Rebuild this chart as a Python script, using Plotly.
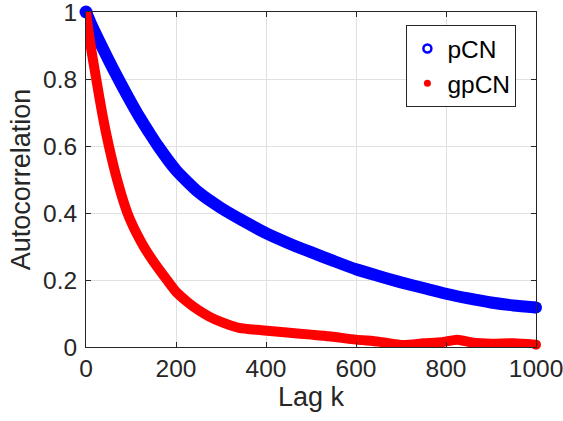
import plotly.graph_objects as go

# pCN autocorrelation
lag_pcn = [0, 12, 24, 36, 50, 70, 90, 107, 120, 140, 160, 200, 250, 300, 350,
           400, 450, 500, 550, 600, 650, 700, 750, 800, 850, 900, 950, 1000]
acf_pcn = [1.0, 0.962, 0.928, 0.895, 0.857, 0.805, 0.755, 0.714, 0.684, 0.641, 0.6,
           0.528, 0.462, 0.415, 0.376, 0.34, 0.31, 0.283, 0.257, 0.232, 0.212,
           0.193, 0.176, 0.159, 0.145, 0.133, 0.124, 0.118]

# gpCN autocorrelation
lag_gpcn = [0, 6, 12, 24, 37, 50, 70, 92, 112, 130, 150, 180, 200, 225, 250, 275,
            300, 340, 390, 440, 500, 540, 600, 650, 705, 750, 790, 825, 860, 900,
            950, 1000]
acf_gpcn = [1.0, 0.94, 0.885, 0.79, 0.69, 0.605, 0.495, 0.4, 0.34, 0.296, 0.255,
            0.2, 0.165, 0.135, 0.11, 0.09, 0.075, 0.057, 0.05, 0.044, 0.037, 0.032,
            0.022, 0.016, 0.006, 0.011, 0.014, 0.022, 0.013, 0.01, 0.011, 0.007]

x_ticks = [0, 200, 400, 600, 800, 1000]
y_ticks = [0, 0.2, 0.4, 0.6, 0.8, 1]
y_tick_text = ["0", "0.2", "0.4", "0.6", "0.8", "1"]
series_names = ["pCN", "gpCN"]

FONT = "Liberation Sans"
TXT = "#262626"
BLUE = "#0000ff"
RED = "#ff0000"
TICK_SIZE = 24.5
LABEL_SIZE = 27


def end_sizes(n, s_start, s_end):
    return [s_start] + [0] * (n - 2) + [s_end]


fig = go.Figure()
fig.add_trace(go.Scatter(
    x=lag_pcn, y=acf_pcn, mode="lines+markers",
    line=dict(color=BLUE, width=12, shape="spline", smoothing=0.6),
    marker=dict(color=BLUE, opacity=1, size=end_sizes(len(lag_pcn), 13, 12), line=dict(width=0)),
    cliponaxis=False, showlegend=False, hoverinfo="skip"))
fig.add_trace(go.Scatter(
    x=lag_gpcn, y=acf_gpcn, mode="lines+markers",
    line=dict(color=RED, width=10, shape="spline", smoothing=0.6),
    marker=dict(color=RED, opacity=1, size=end_sizes(len(lag_gpcn), 0, 10), line=dict(width=0)),
    cliponaxis=False, showlegend=False, hoverinfo="skip"))
# legend entries
fig.add_trace(go.Scatter(
    x=[None], y=[None], mode="markers", name=series_names[0],
    marker=dict(symbol="circle-open", color=BLUE, size=8, line=dict(width=2.5, color=BLUE))))
fig.add_trace(go.Scatter(
    x=[None], y=[None], mode="markers", name=series_names[1],
    marker=dict(symbol="circle", color=RED, size=7)))

axis_common = dict(
    showline=True, linecolor=TXT, linewidth=1, mirror="ticks",
    ticks="inside", ticklen=5, tickcolor=TXT, tickwidth=1,
    showgrid=True, gridcolor="#e0e0e0", gridwidth=1,
    zeroline=False, automargin=False, ticklabeloverflow="allow",
    tickfont=dict(family=FONT, size=TICK_SIZE, color=TXT),
)

fig.update_layout(
    template="none",
    width=563, height=421,
    margin=dict(l=86, r=27, t=12, b=74, autoexpand=False),
    paper_bgcolor="white", plot_bgcolor="white",
    font=dict(family=FONT, color=TXT),
    xaxis=dict(range=[0, 1000], tickvals=x_ticks,
               title=dict(text="Lag k", font=dict(family=FONT, size=LABEL_SIZE, color=TXT), standoff=3),
               **axis_common),
    yaxis=dict(range=[0, 1], tickvals=y_ticks, ticktext=y_tick_text,
               ticklabelstandoff=3,
               title=dict(text="Autocorrelation", font=dict(family=FONT, size=LABEL_SIZE, color=TXT), standoff=4),
               **axis_common),
    legend=dict(x=0.712, y=0.961, xanchor="left", yanchor="top",
                bgcolor="white", bordercolor=TXT, borderwidth=1,
                font=dict(family=FONT, size=TICK_SIZE, color="black"),
                tracegroupgap=0, itemwidth=30),
)

fig.write_html("out.html")
